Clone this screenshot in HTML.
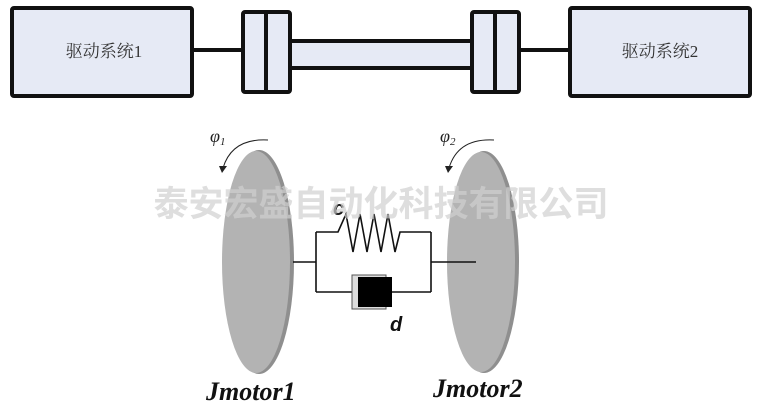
<!DOCTYPE html>
<html><head><meta charset="utf-8"><style>
body{margin:0;background:#fff;width:760px;height:408px;overflow:hidden}
</style></head><body>
<svg width="760" height="408" viewBox="0 0 760 408" xmlns="http://www.w3.org/2000/svg">
<rect width="760" height="408" fill="#fff"/>
<g stroke="#111" stroke-width="4" fill="#e6eaf5">
<line x1="193" y1="50" x2="241" y2="50"/>
<line x1="520" y1="50" x2="568" y2="50"/>
<rect x="12" y="8" width="180" height="88" rx="2"/>
<rect x="570" y="8" width="180" height="88" rx="2"/>
<rect x="290" y="41" width="182" height="27"/>
<rect x="243" y="12" width="47" height="80" rx="2"/>
<line x1="266" y1="12" x2="266" y2="92"/>
<rect x="472" y="12" width="47" height="80" rx="2"/>
<line x1="495" y1="12" x2="495" y2="92"/>
</g>
<text x="104" y="57" font-family="Liberation Serif, Noto Serif CJK SC, serif" font-size="17" fill="#333" text-anchor="middle">驱动系统1</text>
<text x="660" y="57" font-family="Liberation Serif, Noto Serif CJK SC, serif" font-size="17" fill="#333" text-anchor="middle">驱动系统2</text>
<ellipse cx="259" cy="262" rx="35" ry="112" fill="#8f8f8f"/>
<ellipse cx="256" cy="262" rx="34" ry="111" fill="#b3b3b3"/>
<ellipse cx="484" cy="262" rx="35" ry="111" fill="#8f8f8f"/>
<ellipse cx="481" cy="262" rx="34" ry="110" fill="#b3b3b3"/>
<g fill="none" stroke="#222" stroke-width="1">
<path d="M268 140 Q232 138 223 168"/>
<path d="M494 140 Q458 138 449 168"/>
</g>
<path d="M219 166 L227 166 L222 173 Z" fill="#222"/>
<path d="M445 166 L453 166 L448 173 Z" fill="#222"/>
<text x="210" y="142" font-family="Liberation Serif, serif" font-style="italic" font-size="18" fill="#222">φ<tspan font-size="11" dy="3">1</tspan></text>
<text x="440" y="142" font-family="Liberation Serif, serif" font-style="italic" font-size="18" fill="#222">φ<tspan font-size="11" dy="3">2</tspan></text>
<g fill="none" stroke="#111" stroke-width="1.6">
<path d="M293 262 H316 M316 232 V292 M431 232 V292 M431 262 H476"/>
<path d="M316 232 H338 L346 214 L353 252 L360 214 L367 252 L374 214 L381 252 L388 214 L395 252 L400 232 H431"/>
<path d="M316 292 H354 M392 292 H431"/>
</g>
<rect x="352" y="275" width="34" height="34" fill="#ddd" stroke="#555" stroke-width="1"/>
<rect x="358" y="277" width="34" height="30" fill="#000"/>
<text x="333" y="215" font-family="Liberation Sans, sans-serif" font-weight="bold" font-style="italic" font-size="20" fill="#111">c</text>
<text x="390" y="331" font-family="Liberation Sans, sans-serif" font-weight="bold" font-style="italic" font-size="20" fill="#111">d</text>
<text x="381" y="216" font-family="Liberation Sans, Noto Sans CJK SC, sans-serif" font-weight="bold" font-size="35" fill="#d0d0d0" fill-opacity="0.7" text-anchor="middle">泰安宏盛自动化科技有限公司</text>
<text x="206" y="400" font-family="Liberation Serif, serif" font-weight="bold" font-style="italic" font-size="26" fill="#111">Jmotor1</text>
<text x="433" y="397" font-family="Liberation Serif, serif" font-weight="bold" font-style="italic" font-size="26" fill="#111">Jmotor2</text>
</svg>
</body></html>
